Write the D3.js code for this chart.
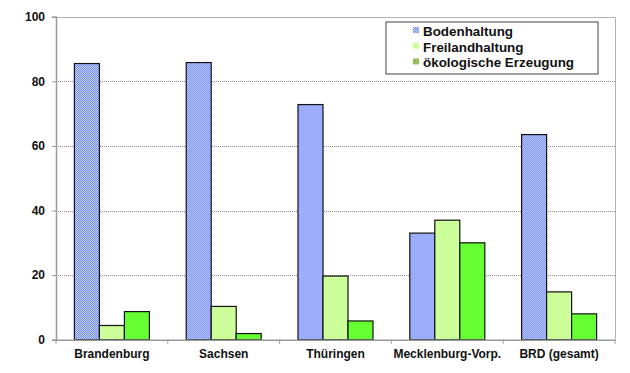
<!DOCTYPE html>
<html>
<head>
<meta charset="utf-8">
<script src="https://cdn.jsdelivr.net/npm/d3@7"></script>
<style>
  body { margin: 0; background: #fff; }
  svg text { font-family: "Liberation Sans", Arial, sans-serif; font-weight: bold; fill: #111; }
</style>
</head>
<body>
<div id="chart"></div>
<script>
const categories = ['Brandenburg', 'Sachsen', 'Thüringen', 'Mecklenburg-Vorp.', 'BRD (gesamt)'];
const seriesNames = ['Bodenhaltung', 'Freilandhaltung', 'ökologische Erzeugung'];
const bodenhaltung = [85.5, 85.8, 72.8, 33, 63.5];
const freilandhaltung = [4.4, 10.3, 19.7, 37, 14.8];
const oekologisch = [8.7, 1.9, 5.8, 30, 8.0];
const yTicks = [0, 20, 40, 60, 80, 100];

const seriesValues = [bodenhaltung, freilandhaltung, oekologisch];
const fills = ['url(#checker)', '#ccff99', '#66ff33'];
const legendFills = ['url(#checker)', '#ccff99', '#99bb55'];

const width = 630, height = 373;
const margin = { top: 16.7, right: 15, bottom: 33.3, left: 56 };

const svg = d3.select('#chart').append('svg')
    .attr('width', width)
    .attr('height', height);

const defs = svg.append('defs');
const pat = defs.append('pattern')
    .attr('id', 'checker')
    .attr('width', 2).attr('height', 2)
    .attr('patternUnits', 'userSpaceOnUse');
pat.append('rect').attr('width', 2).attr('height', 2).attr('fill', '#c8d2ff');
pat.append('rect').attr('width', 1).attr('height', 1).attr('fill', '#7088ff');
pat.append('rect').attr('x', 1).attr('y', 1).attr('width', 1).attr('height', 1).attr('fill', '#7088ff');

const x0 = d3.scaleBand()
    .domain(categories)
    .range([margin.left, width - margin.right]);

const x1 = d3.scaleBand()
    .domain(seriesNames)
    .range([0, x0.bandwidth()])
    .paddingOuter(0.736);

const y = d3.scaleLinear()
    .domain([0, 100])
    .range([height - margin.bottom, margin.top]);

// grid lines
svg.append('g')
    .selectAll('line')
    .data(yTicks.filter(d => d > 0 && d < 100))
    .enter().append('line')
    .attr('x1', margin.left).attr('x2', width - margin.right)
    .attr('y1', d => Math.round(y(d)) + 0.5).attr('y2', d => Math.round(y(d)) + 0.5)
    .attr('stroke', '#888')
    .attr('stroke-dasharray', '1,1');

// plot border top / right
svg.append('path')
    .attr('d', `M${margin.left},${Math.round(y(100)) + 0.5}H${width - margin.right + 0.5}V${y(0)}`)
    .attr('fill', 'none')
    .attr('stroke', '#b0b0b0');

// bars
const groups = svg.append('g')
    .selectAll('g')
    .data(categories)
    .enter().append('g')
    .attr('transform', d => 'translate(' + x0(d) + ',0)');

groups.selectAll('rect')
    .data((c, ci) => seriesNames.map((s, si) => ({ s: s, si: si, val: seriesValues[si][ci] })))
    .enter().append('rect')
    .attr('x', d => x1(d.s))
    .attr('width', x1.bandwidth())
    .attr('y', d => y(d.val))
    .attr('height', d => y(0) - y(d.val))
    .attr('fill', d => fills[d.si])
    .attr('stroke', '#111')
    .attr('stroke-width', 1.2);

// y axis
const yAxis = d3.axisLeft(y)
    .tickValues(yTicks)
    .tickSize(4)
    .tickPadding(7);
const gy = svg.append('g')
    .attr('transform', 'translate(' + margin.left + ',0)')
    .call(yAxis);
gy.select('.domain').attr('stroke', '#999').attr('stroke-width', 1.5);
gy.selectAll('.tick line').attr('stroke', '#999');
gy.selectAll('text').style('font-size', '12px');

// x axis
const xAxis = d3.axisBottom(x0)
    .tickSize(0)
    .tickPadding(10);
const gx = svg.append('g')
    .attr('transform', 'translate(0,' + y(0) + ')')
    .call(xAxis);
gx.select('.domain').attr('stroke', '#999').attr('stroke-width', 1.5);
gx.selectAll('text').style('font-size', '12px');
gx.selectAll('.sep')
    .data(d3.range(categories.length + 1))
    .enter().append('line')
    .attr('class', 'sep')
    .attr('x1', i => margin.left + i * x0.step())
    .attr('x2', i => margin.left + i * x0.step())
    .attr('y1', 0).attr('y2', 4)
    .attr('stroke', '#999');

// legend
const legend = svg.append('g').attr('transform', 'translate(386,22)');
legend.append('rect')
    .attr('width', 212).attr('height', 52)
    .attr('fill', '#fff')
    .attr('stroke', '#444');
const items = legend.selectAll('.item')
    .data(seriesNames)
    .enter().append('g')
    .attr('transform', (d, i) => 'translate(0,' + (14 + i * 15.7) + ')');
items.append('rect')
    .attr('x', 27).attr('y', -9)
    .attr('width', 6).attr('height', 6)
    .attr('fill', (d, i) => legendFills[i]);
items.append('text')
    .attr('x', 37).attr('y', 0)
    .style('font-size', '13.4px')
    .text(d => d);
</script>
</body>
</html>
